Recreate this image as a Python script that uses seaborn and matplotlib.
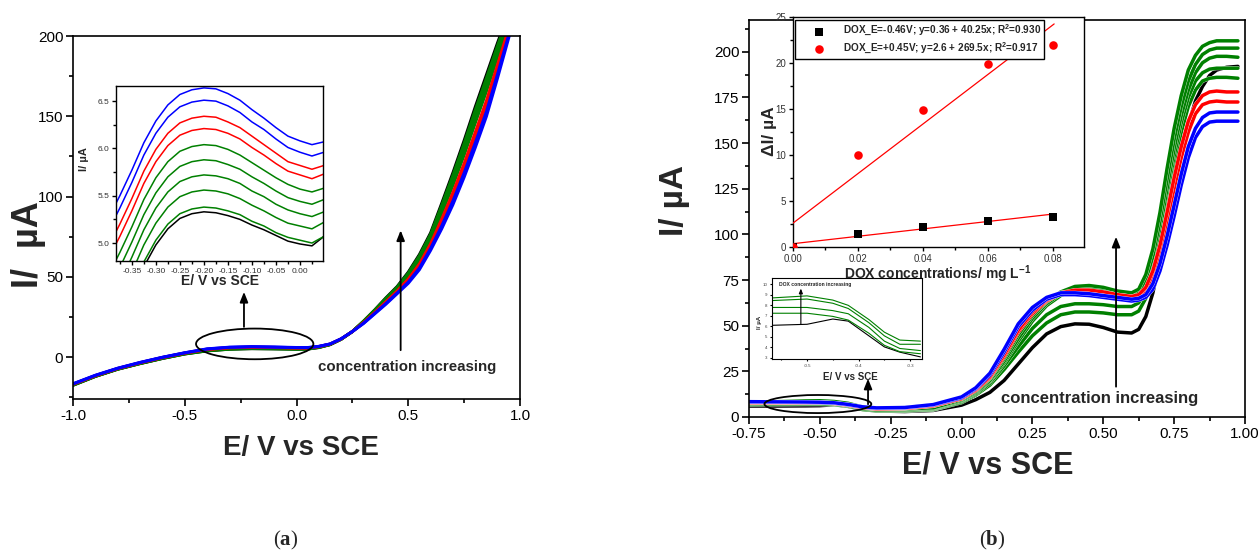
import numpy as np
import pandas as pd
import matplotlib
matplotlib.use('Agg')
import matplotlib.pyplot as plt
import matplotlib.patheffects as pe
import seaborn as sns
from matplotlib.patches import Ellipse
from matplotlib.ticker import MultipleLocator

# ---------------- data ----------------
curve_order = ['K', 'G1', 'G2', 'G3', 'G4', 'G5', 'R2', 'R1', 'B2', 'B1']
palette = {'K': '#000000', 'G1': '#008000', 'G2': '#008000', 'G3': '#008000',
           'G4': '#008000', 'G5': '#008000', 'R2': '#FF0000', 'R1': '#FF0000',
           'B2': '#0000FF', 'B1': '#0000FF'}

# panel (a) main voltammograms
xa = [-1.0, -0.9, -0.8, -0.7, -0.6, -0.5, -0.4, -0.3, -0.2, -0.1, 0.0, 0.05, 0.1, 0.15, 0.2,
      0.25, 0.3, 0.35, 0.4, 0.45, 0.5, 0.55, 0.6, 0.65, 0.7, 0.75, 0.8, 0.85, 0.9, 0.95, 0.975]
K_a = [-17.5, -12.0, -7.5, -4.0, -0.8, 2.0, 3.94, 4.98, 5.33, 5.19, 4.99, 5.07, 6.0, 7.8, 11.2, 16,
       22.5, 29.5, 37, 44, 53, 64, 77.5, 96, 115, 135, 156, 176, 196, 215, 225]
G1_a = [-17.4, -11.9, -7.45, -3.95, -0.75, 2.05, 3.99, 5.03, 5.38, 5.23, 5.03, 5.07, 6.1, 7.85, 11.2, 16,
        22.4, 29.3, 36.7, 43.6, 52.4, 63.2, 76.6, 94.7, 113.4, 133.2, 154, 173.9, 194.2, 213.7, 224]
G2_a = [-17.3, -11.85, -7.4, -3.85, -0.65, 2.15, 4.17, 5.21, 5.56, 5.40, 5.18, 5.22, 6.2, 7.9, 11.25, 16,
        22.3, 29.1, 36.4, 43.3, 51.9, 62.5, 75.7, 93.4, 111.8, 131.3, 151.9, 171.8, 192.5, 212.4, 223]
G3_a = [-17.2, -11.8, -7.3, -3.8, -0.55, 2.25, 4.33, 5.37, 5.72, 5.55, 5.31, 5.33, 6.3, 7.95, 11.3, 16,
        22.1, 28.9, 36.0, 42.9, 51.3, 61.7, 74.9, 92.2, 110.2, 129.5, 149.9, 169.8, 190.7, 211.2, 221.9]
G4_a = [-17.1, -11.7, -7.25, -3.7, -0.45, 2.35, 4.49, 5.53, 5.88, 5.70, 5.44, 5.46, 6.4, 8.0, 11.3, 16,
        22.0, 28.7, 35.7, 42.6, 50.8, 61.0, 74.0, 90.9, 108.6, 127.6, 147.8, 167.7, 189.0, 209.9, 220.8]
G5_a = [-17.0, -11.6, -7.2, -3.6, -0.35, 2.45, 4.65, 5.69, 6.04, 5.85, 5.57, 5.58, 6.5, 8.05, 11.35, 16,
        21.9, 28.5, 35.4, 42.2, 50.2, 60.2, 73.1, 89.6, 107.0, 125.8, 145.8, 165.6, 187.2, 208.6, 219.8]
R2_a = [-16.85, -11.5, -7.05, -3.5, -0.25, 2.55, 4.82, 5.86, 6.21, 6.01, 5.72, 5.73, 6.6, 8.15, 11.4, 16,
        21.6, 27.9, 34.5, 41.2, 48.7, 58.1, 70.7, 86.1, 102.6, 120.7, 140.2, 159.9, 182.4, 205.1, 216.9]
R1_a = [-16.75, -11.45, -7.0, -3.4, -0.15, 2.65, 4.95, 5.99, 6.34, 6.13, 5.82, 5.82, 6.7, 8.2, 11.45, 16,
        21.4, 27.7, 34.1, 40.8, 48.0, 57.2, 69.6, 84.5, 100.6, 118.4, 137.6, 157.3, 180.2, 203.5, 215.6]
B2_a = [-16.6, -11.3, -6.9, -3.3, -0.05, 2.75, 5.12, 6.16, 6.51, 6.28, 5.96, 5.96, 6.75, 8.25, 11.5, 16,
        21.2, 27.3, 33.5, 40.0, 46.8, 55.6, 67.8, 81.9, 97.4, 114.8, 133.6, 153.1, 176.6, 200.9, 213.6]
B1_a = [-16.5, -11.2, -6.8, -3.2, 0.0, 2.8, 5.25, 6.29, 6.64, 6.41, 6.08, 6.07, 6.8, 8.3, 11.5, 16,
        21, 27, 33, 39.5, 46, 54.5, 66.5, 80, 95, 112, 130.5, 150, 174, 199, 212]

# panel (a) inset
xi = [-0.40, -0.375, -0.35, -0.325, -0.30, -0.275, -0.25, -0.225, -0.20, -0.175, -0.15,
      -0.125, -0.10, -0.075, -0.05, -0.025, 0.00, 0.025, 0.05]
B1_i = [5.25, 5.50, 5.77, 6.06, 6.29, 6.46, 6.57, 6.62, 6.64, 6.63, 6.58, 6.51, 6.41, 6.32, 6.22, 6.13, 6.08, 6.04, 6.07]
B2_i = [5.12, 5.37, 5.64, 5.93, 6.16, 6.33, 6.44, 6.49, 6.51, 6.50, 6.45, 6.38, 6.28, 6.20, 6.10, 6.01, 5.96, 5.92, 5.96]
R1_i = [4.95, 5.20, 5.47, 5.76, 5.99, 6.16, 6.27, 6.32, 6.34, 6.33, 6.28, 6.22, 6.13, 6.04, 5.95, 5.86, 5.82, 5.78, 5.82]
R2_i = [4.82, 5.07, 5.34, 5.63, 5.86, 6.03, 6.14, 6.19, 6.21, 6.20, 6.16, 6.10, 6.01, 5.93, 5.84, 5.76, 5.72, 5.68, 5.73]
G5_i = [4.65, 4.90, 5.17, 5.46, 5.69, 5.86, 5.97, 6.02, 6.04, 6.03, 5.99, 5.93, 5.85, 5.77, 5.69, 5.62, 5.57, 5.54, 5.58]
G4_i = [4.49, 4.74, 5.01, 5.30, 5.53, 5.70, 5.81, 5.86, 5.88, 5.87, 5.83, 5.78, 5.70, 5.63, 5.55, 5.48, 5.44, 5.41, 5.46]
G3_i = [4.33, 4.58, 4.85, 5.14, 5.37, 5.54, 5.65, 5.70, 5.72, 5.71, 5.68, 5.63, 5.55, 5.49, 5.41, 5.35, 5.31, 5.28, 5.33]
G2_i = [4.17, 4.42, 4.69, 4.98, 5.21, 5.38, 5.49, 5.54, 5.56, 5.55, 5.52, 5.47, 5.40, 5.34, 5.27, 5.21, 5.18, 5.15, 5.22]
G1_i = [3.99, 4.24, 4.51, 4.80, 5.03, 5.20, 5.31, 5.36, 5.38, 5.37, 5.34, 5.30, 5.23, 5.18, 5.11, 5.06, 5.03, 5.00, 5.07]
K_i = [3.94, 4.19, 4.46, 4.75, 4.98, 5.15, 5.26, 5.31, 5.33, 5.32, 5.29, 5.25, 5.19, 5.14, 5.08, 5.02, 4.99, 4.97, 5.07]

# panel (b) main voltammograms
xb = [-0.75, -0.65, -0.55, -0.50, -0.45, -0.40, -0.35, -0.30, -0.20, -0.10, 0.00, 0.05, 0.10,
      0.15, 0.20, 0.25, 0.30, 0.35, 0.40, 0.45, 0.50, 0.55, 0.60, 0.625, 0.65, 0.675, 0.70,
      0.725, 0.75, 0.775, 0.80, 0.825, 0.85, 0.875, 0.90, 0.935, 0.975]
K_b = [6.0, 6.0, 6.1, 6.2, 6.7, 5.8, 4.1, 3.3, 3.0, 3.6, 6.5, 9.5, 13.5, 20, 29, 38, 45.5, 49.5, 51, 50.8,
       49, 46.5, 46, 48, 55, 68, 86, 105, 124, 143, 160, 173, 181, 187, 190, 191.5, 192]
G1_b = [6.8, 6.9, 7.0, 7.0, 6.8, 5.9, 4.1, 3.4, 3.4, 4.0, 8, 12, 17.5, 26, 35.5, 44.5, 51.5, 56, 57.5, 57.5,
        57, 56, 56, 58, 65, 78, 96, 117, 138, 156, 170, 179, 184, 185.5, 186, 186, 185.5]
G2_b = [7.1, 7.2, 7.25, 7.25, 7.0, 6.1, 4.2, 3.5, 3.5, 4.2, 8.5, 12.5, 18.5, 28, 38.5, 48.5, 56, 60.5, 62, 62,
        61.5, 60.5, 60.5, 62.5, 69, 82, 100, 122, 143, 161, 175, 184, 188.5, 190.5, 191, 191, 191]
G3_b = [7.5, 7.7, 7.8, 7.8, 7.5, 6.7, 4.6, 3.8, 3.8, 4.5, 9, 13, 19.5, 29.5, 41.5, 52.5, 61, 66.5, 69.5, 70,
        69, 67.5, 66.5, 67.5, 73, 85, 103, 125, 147, 165, 179, 188.5, 194, 196.5, 197.5, 197.5, 197]
G4_b = [7.8, 8.1, 8.5, 8.6, 8.2, 7.1, 5.1, 4.3, 4.2, 4.8, 9, 13.5, 20, 30.5, 43, 54, 62, 67.5, 70.5, 71,
        70, 68, 67, 68.5, 75, 88, 107, 130, 152, 170, 184, 193, 198.5, 201, 202, 202, 202]
G5_b = [8.0, 8.4, 8.8, 8.9, 8.5, 7.5, 5.5, 4.6, 4.5, 5.0, 9.5, 14, 21, 32, 45, 55.5, 63, 68.5, 71.5, 72,
        71, 69, 68, 70, 78, 92, 112, 136, 158, 176, 190, 198, 203, 205, 206, 206, 206]
R2_b = [7.8, 7.8, 7.8, 7.8, 7.4, 6.4, 5.0, 4.5, 4.7, 6.0, 10, 14.5, 21.5, 33, 46.5, 56.5, 63.5, 67.5, 69, 69,
        68, 66.5, 65.5, 66, 69, 77, 90, 107, 125, 142, 156, 166, 171, 172.5, 173, 172.5, 172.5]
R1_b = [8.0, 8.0, 8.0, 8.0, 7.6, 6.6, 5.2, 4.6, 4.8, 6.2, 10, 15, 22, 34, 47.5, 57.5, 64, 68, 69.5, 69.5,
        68.5, 67, 66, 67, 71, 80, 94, 112, 131, 148, 162, 171, 176, 178, 178.5, 178, 178]
B2_b = [8.2, 8.1, 8.0, 7.9, 7.6, 6.7, 5.4, 4.9, 5.1, 6.6, 10.5, 15.5, 23, 35.5, 49.5, 58.5, 64.5, 67, 67, 66.5,
        65.5, 64.5, 63.5, 64, 65.5, 70, 80, 94, 110, 127, 142, 153, 159, 161.5, 162, 162, 162]
B1_b = [8.4, 8.3, 8.2, 8.1, 7.8, 6.9, 5.6, 5.0, 5.2, 6.8, 11, 16, 24, 37, 51, 60, 65.5, 68, 68, 67.5,
        66.5, 65.5, 64.5, 65, 67, 73, 84, 99, 116, 133, 148, 158, 164, 166.5, 167, 167, 167]

# panel (b) small inset
xs = [-0.57, -0.50, -0.45, -0.42, -0.38, -0.35, -0.32, -0.28]
small_order = ['K', 'Gd', 'Gc', 'Gb', 'Ga']
K_s = [6.1, 6.2, 6.7, 6.5, 5.1, 4.05, 3.55, 3.1]
Ga_s = [8.7, 8.9, 8.5, 8.0, 6.65, 5.45, 4.7, 4.6]
Gb_s = [8.45, 8.6, 8.2, 7.7, 6.35, 5.1, 4.3, 4.3]
Gc_s = [7.8, 7.8, 7.5, 7.2, 5.9, 4.6, 3.9, 3.7]
Gd_s = [7.25, 7.25, 6.95, 6.6, 5.35, 4.2, 3.6, 3.4]

# panel (b) calibration inset
conc = [0.00, 0.02, 0.04, 0.06, 0.08]
dI_neg = [0.0, 1.45, 2.15, 2.85, 3.25]
dI_pos = [0.0, 10.0, 14.9, 19.9, 22.0]
fit_neg = (0.36, 40.25)
fit_pos = (2.6, 269.5)
fit_x = [0.0, 0.0805]
label_neg = 'DOX_E=-0.46V; y=0.36 + 40.25x; R$^2$=0.930'
label_pos = 'DOX_E=+0.45V; y=2.6 + 269.5x; R$^2$=0.917'


def to_long(x, series):
    frames = [pd.DataFrame({'E': x, 'I': v, 'curve': k}) for k, v in series.items()]
    return pd.concat(frames, ignore_index=True)


df_a = to_long(xa, dict(K=K_a, G1=G1_a, G2=G2_a, G3=G3_a, G4=G4_a, G5=G5_a,
                        R2=R2_a, R1=R1_a, B2=B2_a, B1=B1_a))
df_i = to_long(xi, dict(K=K_i, G1=G1_i, G2=G2_i, G3=G3_i, G4=G4_i, G5=G5_i,
                        R2=R2_i, R1=R1_i, B2=B2_i, B1=B1_i))
df_b = to_long(xb, dict(K=K_b, G1=G1_b, G2=G2_b, G3=G3_b, G4=G4_b, G5=G5_b,
                        R2=R2_b, R1=R1_b, B2=B2_b, B1=B1_b))
df_s = to_long(xs, dict(K=K_s, Gd=Gd_s, Gc=Gc_s, Gb=Gb_s, Ga=Ga_s))
pal_s = {'K': '#000000', 'Ga': '#008000', 'Gb': '#008000', 'Gc': '#008000', 'Gd': '#008000'}

# ---------------- style ----------------
sns.set_style('ticks')
plt.rcParams['font.family'] = ['Liberation Sans', 'DejaVu Sans']
plt.rcParams['mathtext.fontset'] = 'custom'
plt.rcParams['mathtext.rm'] = 'Liberation Sans:bold'
plt.rcParams['mathtext.bf'] = 'Liberation Serif:bold'

W, H = 1260, 554
fig = plt.figure(figsize=(W / 100, H / 100), dpi=100)
fig.patch.set_facecolor('white')


def px_axes(l, t, r, b):
    return fig.add_axes([l / W, 1 - b / H, (r - l) / W, (b - t) / H])


def style_axes(ax, lw, labelsize, major_len, minor_len, color='black'):
    for s in ax.spines.values():
        s.set_visible(True)
        s.set_linewidth(lw)
        s.set_color('black')
    ax.tick_params(which='both', direction='out', top=False, right=False,
                   width=lw, labelsize=labelsize, colors='black', labelcolor=color, pad=2)
    ax.tick_params(which='major', length=major_len)
    ax.tick_params(which='minor', length=minor_len)
    ax.set_xlabel('')
    ax.set_ylabel('')
    ax.set_facecolor('white')


def ftext(xp, yp, s, **kw):
    fig.text(xp / W, 1 - yp / H, s, **kw)


def arrow(ax, x0, y0, x1, y1, lw=1.3, ms=11):
    ax.annotate('', xy=(x1, y1), xytext=(x0, y0),
                arrowprops=dict(arrowstyle='-|>,head_length=0.55,head_width=0.22',
                                color='black', lw=lw, shrinkA=0, shrinkB=0,
                                mutation_scale=ms))


# ---------------- panel (a) ----------------
axa = px_axes(73, 36, 520, 399)
sns.lineplot(data=df_a, x='E', y='I', hue='curve', hue_order=curve_order, palette=palette,
             estimator=None, sort=False, legend=False, linewidth=2.1, ax=axa)
axa.set_xlim(-1.0, 1.0)
axa.set_ylim(-26, 200)
axa.xaxis.set_major_locator(MultipleLocator(0.5))
axa.xaxis.set_minor_locator(MultipleLocator(0.25))
axa.yaxis.set_major_locator(MultipleLocator(50))
axa.yaxis.set_minor_locator(MultipleLocator(25))
style_axes(axa, 1.2, 11, 5, 3)
axa.xaxis.set_major_formatter(matplotlib.ticker.FuncFormatter(lambda v, p: f'{v:.1f}'))
axa.add_patch(Ellipse((-0.187, 8.3), 0.525, 19.1, fill=False, edgecolor='black', lw=1.3, zorder=5))
arrow(axa, -0.235, 18.9, -0.235, 40.7)
arrow(axa, 0.466, 4.4, 0.466, 79)
axa.text(0.494, -6, 'concentration increasing', ha='center', va='center',
         fontsize=10.8, fontweight='bold')

axia = px_axes(116, 86, 323, 261)
sns.lineplot(data=df_i, x='E', y='I', hue='curve', hue_order=curve_order, palette=palette,
             estimator=None, sort=False, legend=False, linewidth=1.1, ax=axia)
axia.set_xlim(-0.383, 0.048)
axia.set_ylim(4.81, 6.66)
axia.xaxis.set_major_locator(MultipleLocator(0.05))
axia.xaxis.set_minor_locator(MultipleLocator(0.025))
axia.yaxis.set_major_locator(MultipleLocator(0.5))
axia.yaxis.set_minor_locator(MultipleLocator(0.25))
style_axes(axia, 1.0, 6, 3, 2, color='#333333')
axia.xaxis.set_major_formatter(matplotlib.ticker.FuncFormatter(lambda v, p: f'{v:.2f}'))
axia.yaxis.set_major_formatter(matplotlib.ticker.FuncFormatter(lambda v, p: f'{v:.1f}'))

ftext(29, 245, 'I/  µA', rotation=90, ha='center', va='center', fontsize=26, fontweight='bold')
ftext(301, 448, 'E/ V vs SCE', ha='center', va='center', fontsize=20, fontweight='bold')
ftext(84, 159, 'I/ µA', rotation=90, ha='center', va='center', fontsize=8, fontweight='bold')
ftext(220, 281, 'E/ V vs SCE', ha='center', va='center', fontsize=10, fontweight='bold')
ftext(286, 540, '($\\mathbf{a}$)', ha='center', va='center', fontsize=15,
      family='Liberation Serif')

# ---------------- panel (b) ----------------
axb = px_axes(749, 20, 1245, 417)
sns.lineplot(data=df_b, x='E', y='I', hue='curve', hue_order=curve_order, palette=palette,
             estimator=None, sort=False, legend=False, linewidth=2.5, ax=axb)
for ln in axb.get_lines():
    ln.set_path_effects([pe.Stroke(linewidth=2.9, foreground='white'), pe.Normal()])
axb.set_xlim(-0.75, 1.0)
axb.set_ylim(0, 217.4)
axb.xaxis.set_major_locator(MultipleLocator(0.25))
axb.xaxis.set_minor_locator(MultipleLocator(0.125))
axb.yaxis.set_major_locator(MultipleLocator(25))
axb.yaxis.set_minor_locator(MultipleLocator(12.5))
style_axes(axb, 1.2, 11, 5, 3)
axb.xaxis.set_major_formatter(matplotlib.ticker.FuncFormatter(lambda v, p: f'{v:.2f}'))
axb.add_patch(Ellipse((-0.507, 7.1), 0.377, 9.9, fill=False, edgecolor='black', lw=1.3, zorder=5))
arrow(axb, -0.33, 7.0, -0.33, 21.0)
arrow(axb, 0.545, 16.6, 0.545, 98.7)
axb.text(0.488, 10.4, 'concentration increasing', ha='center', va='center',
         fontsize=12, fontweight='bold')

# calibration inset
axc = px_axes(793, 17, 1084, 247)
sns.scatterplot(x=conc, y=dI_neg, marker='s', color='black', s=34, linewidth=0, ax=axc,
                label=label_neg, zorder=4)
sns.scatterplot(x=conc, y=dI_pos, marker='o', color='#FF0000', s=38, linewidth=0, ax=axc,
                label=label_pos, zorder=4)
axc.plot(fit_x, [fit_neg[0] + fit_neg[1] * v for v in fit_x], color='#FF0000', lw=0.9, zorder=3)
axc.plot(fit_x, [fit_pos[0] + fit_pos[1] * v for v in fit_x], color='#FF0000', lw=0.9, zorder=3)
axc.set_xlim(0, 0.0897)
axc.set_ylim(0, 25.05)
axc.xaxis.set_major_locator(MultipleLocator(0.02))
axc.xaxis.set_minor_locator(MultipleLocator(0.01))
axc.yaxis.set_major_locator(MultipleLocator(5))
axc.yaxis.set_minor_locator(MultipleLocator(2.5))
style_axes(axc, 1.0, 7, 3, 2, color='#333333')
axc.xaxis.set_major_formatter(matplotlib.ticker.FuncFormatter(lambda v, p: f'{v:.2f}'))
leg = axc.legend(loc='upper left', bbox_to_anchor=(0.007, 0.985), borderaxespad=0,
                 frameon=True, fancybox=False, edgecolor='black', framealpha=1,
                 prop={'weight': 'bold', 'size': 7.2}, handletextpad=0.3,
                 labelspacing=0.25, borderpad=0.3, handlelength=4.2)
leg.get_frame().set_linewidth(1.0)

# small inset
axs = px_axes(772, 278, 922, 359)
sns.lineplot(data=df_s, x='E', y='I', hue='curve', hue_order=small_order, palette=pal_s,
             estimator=None, sort=False, legend=False, linewidth=0.8, ax=axs)
axs.set_xlim(-0.568, -0.277)
axs.set_ylim(2.9, 10.6)
axs.xaxis.set_major_locator(MultipleLocator(0.1))
axs.xaxis.set_minor_locator(MultipleLocator(0.05))
axs.yaxis.set_major_locator(MultipleLocator(1))
style_axes(axs, 0.8, 3.2, 1.5, 1, color='#444444')
axs.xaxis.set_major_formatter(matplotlib.ticker.FuncFormatter(lambda v, p: f'{v:.1f}'))
axs.text(-0.555, 10.0, 'DOX concentration increasing', ha='left', va='center',
         fontsize=3.6, fontweight='bold')
arrow(axs, -0.512, 6.2, -0.512, 9.6, lw=0.8, ms=5)

ftext(675, 200, 'I/ µA', rotation=90, ha='center', va='center', fontsize=24, fontweight='bold')
ftext(988, 465, 'E/ V vs SCE', ha='center', va='center', fontsize=22, fontweight='bold')
ftext(769, 131, 'ΔI/ µA', rotation=90, ha='center', va='center', fontsize=12.5, fontweight='bold')
ftext(938, 274, 'DOX concentrations/ mg L$^{-1}$', ha='center', va='center', fontsize=10,
      fontweight='bold')
ftext(760, 322, 'I/ µA', rotation=90, ha='center', va='center', fontsize=4.5, fontweight='bold')
ftext(850, 377, 'E/ V vs SCE', ha='center', va='center', fontsize=7, fontweight='bold')
ftext(992, 540, '($\\mathbf{b}$)', ha='center', va='center', fontsize=15,
      family='Liberation Serif')

fig.savefig('out.png', dpi=100, facecolor='white')
